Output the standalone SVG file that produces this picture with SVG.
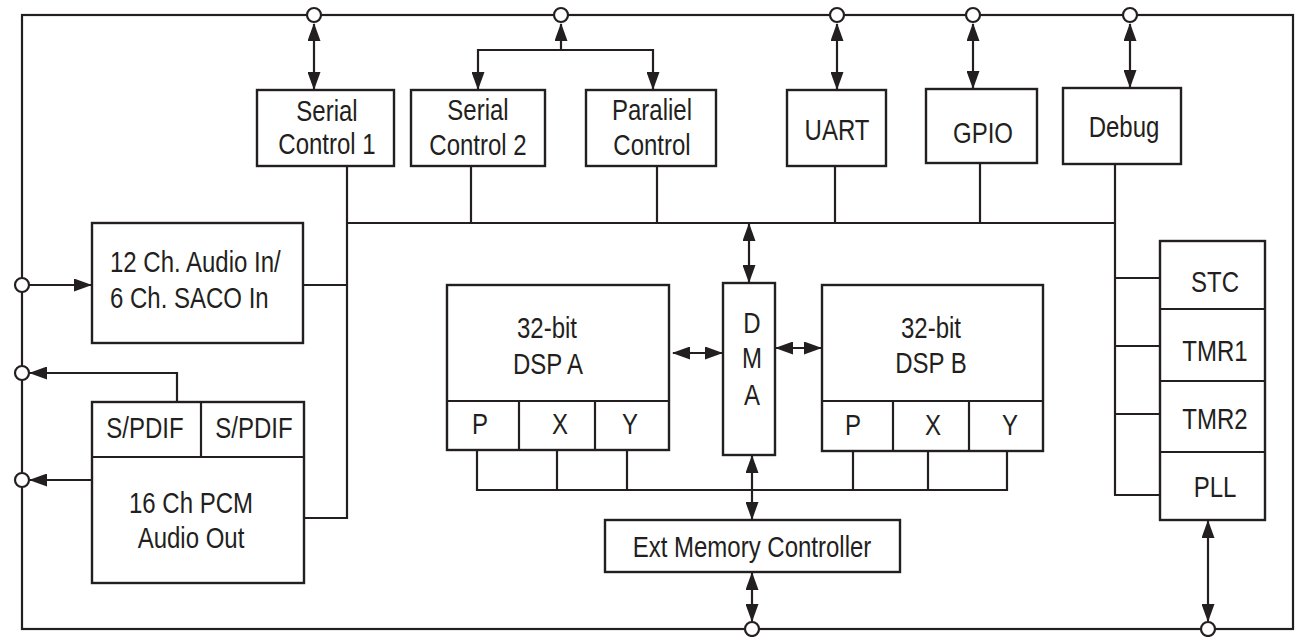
<svg xmlns="http://www.w3.org/2000/svg" width="1296" height="637" viewBox="0 0 1296 637">
<style>
.ln{fill:none;stroke:#231f20;stroke-width:2.2}
.bx{fill:#fff;stroke:#231f20;stroke-width:2.4}
.pin{fill:#fff;stroke:#231f20;stroke-width:2.2}
.t{font-family:"Liberation Sans",Arial,sans-serif;font-size:30px;fill:#231f20;text-anchor:middle}
.s{text-anchor:start}
</style>
<defs>
<marker id="ah" viewBox="0 0 18 13" markerWidth="18" markerHeight="13" refX="17" refY="6.5" orient="auto-start-reverse" markerUnits="userSpaceOnUse">
<path d="M0,0 L18,6.5 L0,13 z" fill="#231f20"/>
</marker>
</defs>
<rect id="frame" x="22" y="15" width="1271" height="614" class="ln"/>
<g id="connectors">
<path class="ln" d="M314,24 V89" marker-start="url(#ah)" marker-end="url(#ah)"/>
<path class="ln" d="M561,50 V24" marker-end="url(#ah)"/>
<path class="ln" d="M478,89 V50 H653 V89" marker-start="url(#ah)" marker-end="url(#ah)"/>
<path class="ln" d="M837,24 V89" marker-start="url(#ah)" marker-end="url(#ah)"/>
<path class="ln" d="M973,24 V88" marker-start="url(#ah)" marker-end="url(#ah)"/>
<path class="ln" d="M1130,24 V87" marker-start="url(#ah)" marker-end="url(#ah)"/>
<path class="ln" d="M347,223 H1115"/>
<path class="ln" d="M347,166 V518 H304"/>
<path class="ln" d="M303,285 H347"/>
<path class="ln" d="M471,166 V223 M657,166 V223 M835,166 V223 M980,163 V223"/>
<path class="ln" d="M1115,164 V495 M1114,278 H1160 M1114,346 H1160 M1114,414 H1160 M1114,495 H1160"/>
<path class="ln" d="M30,285 H91" marker-end="url(#ah)"/>
<path class="ln" d="M177,402 V373 H30" marker-end="url(#ah)"/>
<path class="ln" d="M92,480 H30" marker-end="url(#ah)"/>
<path class="ln" d="M749,224 V282" marker-start="url(#ah)" marker-end="url(#ah)"/>
<path class="ln" d="M673,353 H722" marker-start="url(#ah)" marker-end="url(#ah)"/>
<path class="ln" d="M776,348 H821" marker-start="url(#ah)" marker-end="url(#ah)"/>
<path class="ln" d="M477,450 V490 H1007 V451 M557,450 V490 M627,450 V490 M853,451 V490 M928,451 V490"/>
<path class="ln" d="M752,456 V519" marker-start="url(#ah)" marker-end="url(#ah)"/>
<path class="ln" d="M752,573 V621" marker-start="url(#ah)" marker-end="url(#ah)"/>
<path class="ln" d="M1208,521 V621" marker-start="url(#ah)" marker-end="url(#ah)"/>
</g>
<g id="pins">
<circle class="pin" cx="314" cy="15" r="7"/>
<circle class="pin" cx="561" cy="15" r="7"/>
<circle class="pin" cx="837" cy="15" r="7"/>
<circle class="pin" cx="973" cy="15" r="7"/>
<circle class="pin" cx="1130" cy="15" r="7"/>
<circle class="pin" cx="22" cy="285" r="7"/>
<circle class="pin" cx="22" cy="373" r="7"/>
<circle class="pin" cx="22" cy="480" r="7"/>
<circle class="pin" cx="752" cy="629" r="7"/>
<circle class="pin" cx="1208" cy="629" r="7"/>
</g>
<g id="serial1">
<rect class="bx" x="257" y="90" width="137" height="76"/>
<text class="t" transform="translate(327 121) scale(0.8 1)">Serial</text>
<text class="t" transform="translate(327 154) scale(0.8 1)">Control 1</text>
</g>
<g id="serial2">
<rect class="bx" x="411" y="90" width="134" height="76"/>
<text class="t" transform="translate(478 120) scale(0.8 1)">Serial</text>
<text class="t" transform="translate(478 155) scale(0.8 1)">Control 2</text>
</g>
<g id="parallel">
<rect class="bx" x="586" y="90" width="130" height="76"/>
<text class="t" transform="translate(652 120) scale(0.8 1)">Paraliel</text>
<text class="t" transform="translate(652 155) scale(0.8 1)">Control</text>
</g>
<g id="uart">
<rect class="bx" x="787" y="90" width="99" height="76"/>
<text class="t" transform="translate(837 140) scale(0.8 1)">UART</text>
</g>
<g id="gpio">
<rect class="bx" x="926" y="89" width="111" height="74"/>
<text class="t" transform="translate(983 143) scale(0.8 1)">GPIO</text>
</g>
<g id="debug">
<rect class="bx" x="1063" y="88" width="118" height="76"/>
<text class="t" transform="translate(1124 137) scale(0.8 1)">Debug</text>
</g>
<g id="audioin">
<rect class="bx" x="92" y="223" width="211" height="120"/>
<text class="t s" transform="translate(110 272) scale(0.8 1)">12 Ch. Audio In/</text>
<text class="t s" transform="translate(110 308) scale(0.8 1)">6 Ch. SACO In</text>
</g>
<g id="audioout">
<rect class="bx" x="92" y="402" width="212" height="181"/>
<path class="ln" d="M92,457 H304 M201,402 V457"/>
<text class="t" transform="translate(145 438) scale(0.8 1)">S/PDIF</text>
<text class="t" transform="translate(254 438) scale(0.8 1)">S/PDIF</text>
<text class="t" transform="translate(191 513) scale(0.8 1)">16 Ch PCM</text>
<text class="t" transform="translate(191 548) scale(0.8 1)">Audio Out</text>
</g>
<g id="dspa">
<rect class="bx" x="447" y="285" width="222" height="165"/>
<path class="ln" d="M447,401 H669 M519,401 V450 M595,401 V450"/>
<text class="t" transform="translate(547 338) scale(0.8 1)">32-bit</text>
<text class="t" transform="translate(548 374) scale(0.8 1)">DSP A</text>
<text class="t" transform="translate(480 434) scale(0.8 1)">P</text>
<text class="t" transform="translate(560 434) scale(0.8 1)">X</text>
<text class="t" transform="translate(630 434) scale(0.8 1)">Y</text>
</g>
<g id="dma">
<rect class="bx" x="723" y="283" width="52" height="172"/>
<text class="t" transform="translate(752 333) scale(0.8 1)">D</text>
<text class="t" transform="translate(752 368) scale(0.8 1)">M</text>
<text class="t" transform="translate(752 405) scale(0.8 1)">A</text>
</g>
<g id="dspb">
<rect class="bx" x="822" y="285" width="221" height="166"/>
<path class="ln" d="M822,401 H1043 M893,401 V451 M969,401 V451"/>
<text class="t" transform="translate(931 338) scale(0.8 1)">32-bit</text>
<text class="t" transform="translate(931 373) scale(0.8 1)">DSP B</text>
<text class="t" transform="translate(853 435) scale(0.8 1)">P</text>
<text class="t" transform="translate(933 435) scale(0.8 1)">X</text>
<text class="t" transform="translate(1010 435) scale(0.8 1)">Y</text>
</g>
<g id="extmem">
<rect class="bx" x="605" y="520" width="295" height="52"/>
<text class="t" transform="translate(752 557) scale(0.8 1)">Ext Memory Controller</text>
</g>
<g id="timers">
<rect class="bx" x="1160" y="241" width="105" height="279"/>
<path class="ln" d="M1160,309 H1265 M1160,381 H1265 M1160,452 H1265"/>
<text class="t" transform="translate(1215 292) scale(0.8 1)">STC</text>
<text class="t" transform="translate(1215 361) scale(0.8 1)">TMR1</text>
<text class="t" transform="translate(1215 429) scale(0.8 1)">TMR2</text>
<text class="t" transform="translate(1215 497) scale(0.8 1)">PLL</text>
</g>
</svg>
